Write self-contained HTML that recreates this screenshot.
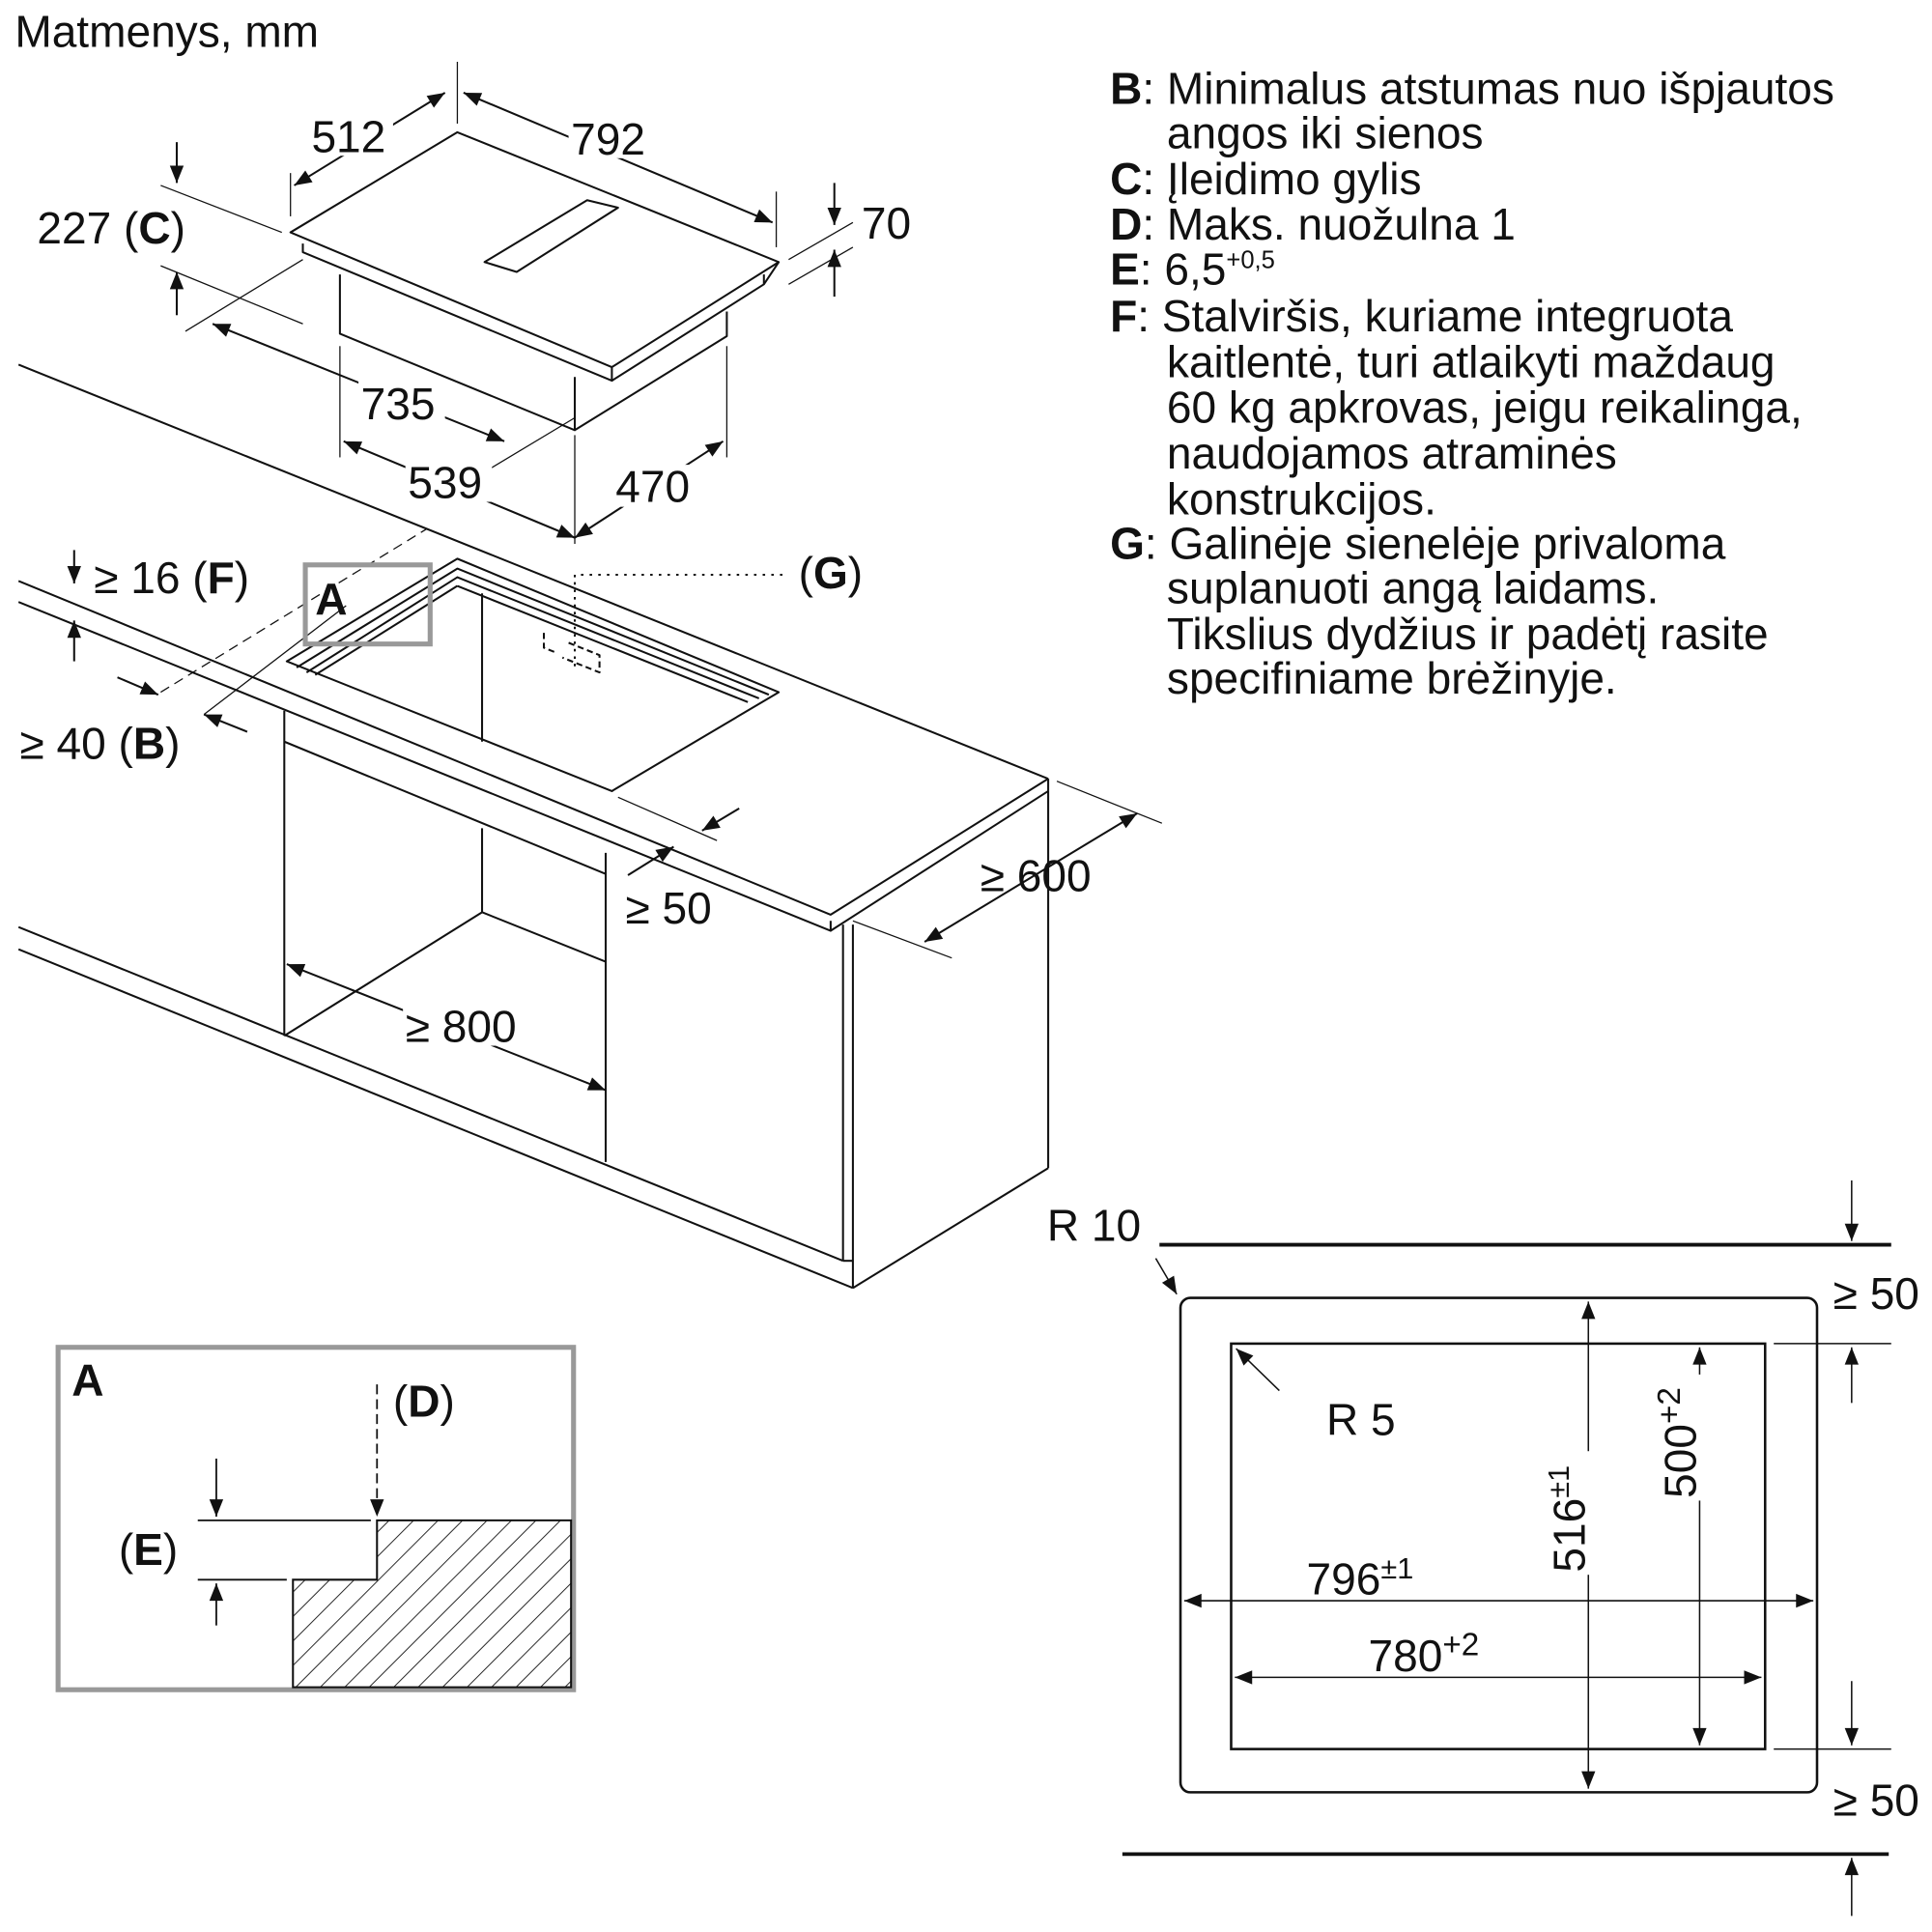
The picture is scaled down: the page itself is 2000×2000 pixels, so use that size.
<!DOCTYPE html>
<html><head><meta charset="utf-8"><style>
html,body{margin:0;padding:0;background:#fff;}
svg{display:block}
text{font-family:"Liberation Sans",sans-serif;fill:#111}
</style></head><body>
<svg width="2000" height="2000" viewBox="0 0 1563 1563" xmlns="http://www.w3.org/2000/svg">
<defs>
<marker id="ar2" viewBox="0 0 10 10" refX="10" refY="5" markerWidth="18" markerHeight="14" orient="auto-start-reverse" markerUnits="userSpaceOnUse"><path d="M0,1 L10,5 L0,9 z" fill="#111"/></marker>
<pattern id="hatch" width="14" height="14" patternUnits="userSpaceOnUse" patternTransform="rotate(45)"><line x1="0" y1="0" x2="0" y2="14" stroke="#111" stroke-width="1.4"/></pattern>
</defs>
<g stroke="#111" stroke-width="1.6" fill="none" stroke-linejoin="round">
<!-- hob -->
<polygon points="235,188 370,107 630,212 495,297" fill="#fff"/>
<polyline points="245,197 245,204 495,308 495,297"/>
<polyline points="495,308 618,230 630,212"/>
<line x1="618" y1="230" x2="618" y2="222"/>
<polygon points="392,212 475,162 500,168 418,220"/>
<polyline points="275,222 275,270 465,348 465,305"/>
<polyline points="465,348 588,272 588,252"/>
<!-- hob dims -->
<line x1="238" y1="150" x2="360" y2="75" marker-start="url(#ar2)" marker-end="url(#ar2)"/>
<line x1="235" y1="140" x2="235" y2="175" stroke-width="1"/>
<line x1="370" y1="50" x2="370" y2="100" stroke-width="1"/>
<line x1="375" y1="75" x2="625" y2="180" marker-start="url(#ar2)" marker-end="url(#ar2)"/>
<line x1="628" y1="155" x2="628" y2="200" stroke-width="1"/>
<line x1="130" y1="150" x2="228" y2="188" stroke-width="1"/>
<line x1="130" y1="215" x2="245" y2="262" stroke-width="1"/>
<line x1="143" y1="115" x2="143" y2="148" marker-end="url(#ar2)"/>
<line x1="143" y1="255" x2="143" y2="220" marker-end="url(#ar2)"/>
<line x1="638" y1="210" x2="690" y2="180" stroke-width="1"/>
<line x1="638" y1="230" x2="690" y2="200" stroke-width="1"/>
<line x1="675" y1="148" x2="675" y2="182" marker-end="url(#ar2)"/>
<line x1="675" y1="240" x2="675" y2="202" marker-end="url(#ar2)"/>
<line x1="150" y1="268" x2="245" y2="210" stroke-width="1"/>
<line x1="172" y1="262" x2="408" y2="357" marker-start="url(#ar2)" marker-end="url(#ar2)"/>
<line x1="395" y1="380" x2="465" y2="338" stroke-width="1"/>
<line x1="275" y1="280" x2="275" y2="370" stroke-width="1"/>
<line x1="588" y1="280" x2="588" y2="370" stroke-width="1"/>
<line x1="465" y1="352" x2="465" y2="440" stroke-width="1"/>
<line x1="278" y1="357" x2="465" y2="435" marker-start="url(#ar2)" marker-end="url(#ar2)"/>
<line x1="465" y1="435" x2="585" y2="357" marker-start="url(#ar2)" marker-end="url(#ar2)"/>
<!-- counter -->
<line x1="15" y1="295" x2="848" y2="630"/>
<polyline points="15,470 672,740 848,630"/>
<polyline points="15,487 672,753 672,745"/>
<line x1="848" y1="630" x2="848" y2="640"/>
<line x1="672" y1="753" x2="848" y2="640"/>
<line x1="682" y1="748" x2="682" y2="1020"/>
<line x1="690" y1="748" x2="690" y2="1042"/>
<line x1="848" y1="640" x2="848" y2="945"/>
<line x1="690" y1="1042" x2="848" y2="945"/>
<line x1="15" y1="750" x2="682" y2="1020"/>
<line x1="15" y1="768" x2="690" y2="1042"/>
<line x1="682" y1="1020" x2="690" y2="1020"/>
<!-- cabinet opening -->
<line x1="230" y1="575" x2="230" y2="838"/>
<line x1="230" y1="600" x2="490" y2="707"/>
<line x1="490" y1="690" x2="490" y2="940"/>
<line x1="390" y1="670" x2="390" y2="738"/>
<line x1="230" y1="838" x2="390" y2="738"/>
<line x1="390" y1="738" x2="490" y2="778"/>
<!-- cutout -->
<polygon points="232,535 370,452 630,560 495,640"/>
<polyline points="240,540 370,460 622,562"/>
<polyline points="248,544 370,467 614,565"/>
<line x1="390" y1="480" x2="390" y2="600"/>
<line x1="255" y1="546" x2="370" y2="474"/>
<line x1="370" y1="474" x2="605" y2="568"/>
<path d="M440,512 l0,12 l10,4 M460,520 l25,10 l0,14 l-30,-12" stroke-dasharray="5,3"/>
<line x1="465" y1="465" x2="465" y2="540" stroke-dasharray="2,4"/>
<line x1="470" y1="465" x2="635" y2="465" stroke-dasharray="2,5"/>
<line x1="130" y1="560" x2="345" y2="428" stroke-dasharray="8,5" stroke-width="1"/>
<!-- counter dims -->
<line x1="60" y1="445" x2="60" y2="472" marker-end="url(#ar2)"/>
<line x1="60" y1="535" x2="60" y2="502" marker-end="url(#ar2)"/>
<line x1="95" y1="548" x2="128" y2="562" marker-end="url(#ar2)"/>
<line x1="200" y1="592" x2="165" y2="578" marker-end="url(#ar2)"/>
<line x1="165" y1="578" x2="280" y2="490" stroke-width="1"/>
<line x1="500" y1="645" x2="580" y2="680" stroke-width="1"/>
<line x1="598" y1="654" x2="568" y2="672" marker-end="url(#ar2)"/>
<line x1="508" y1="708" x2="545" y2="685" marker-end="url(#ar2)"/>
<line x1="855" y1="632" x2="940" y2="666" stroke-width="1"/>
<line x1="690" y1="745" x2="770" y2="775" stroke-width="1"/>
<line x1="920" y1="658" x2="748" y2="762" marker-start="url(#ar2)" marker-end="url(#ar2)"/>
<line x1="232" y1="780" x2="490" y2="882" marker-start="url(#ar2)" marker-end="url(#ar2)"/>
</g>
<rect x="247" y="457" width="101" height="64" fill="none" stroke="#999" stroke-width="4"/>
<g font-size="36">
<text x="12" y="38">Matmenys, mm</text>
<rect x="250" y="92" width="68" height="34" fill="#fff"/><text x="252" y="123">512</text>
<rect x="460" y="94" width="70" height="34" fill="#fff"/><text x="462" y="125">792</text>
<text x="30" y="197">227 (<tspan font-weight="bold">C</tspan>)</text>
<text x="697" y="193">70</text>
<rect x="290" y="308" width="70" height="34" fill="#fff"/><text x="292" y="339">735</text>
<rect x="328" y="372" width="70" height="34" fill="#fff"/><text x="330" y="403">539</text>
<rect x="496" y="376" width="70" height="34" fill="#fff"/><text x="498" y="406">470</text>
<text x="76" y="480">≥ 16 (<tspan font-weight="bold">F</tspan>)</text>
<text x="16" y="614">≥ 40 (<tspan font-weight="bold">B</tspan>)</text>
<text x="255" y="497" font-weight="bold">A</text>
<text x="646" y="476">(<tspan font-weight="bold">G</tspan>)</text>
<text x="506" y="747">≥ 50</text>
<text x="793" y="721">≥ 600</text>
<rect x="326" y="810" width="96" height="36" fill="#fff"/><text x="328" y="843">≥ 800</text>
</g>
<g font-size="36">
<text x="898" y="84"><tspan font-weight="bold">B</tspan>: Minimalus atstumas nuo išpjautos</text>
<text x="944" y="120">angos iki sienos</text>
<text x="898" y="157"><tspan font-weight="bold">C</tspan>: Įleidimo gylis</text>
<text x="898" y="194"><tspan font-weight="bold">D</tspan>: Maks. nuožulna 1</text>
<text x="898" y="230"><tspan font-weight="bold">E</tspan>: 6,5<tspan font-size="20" dy="-13">+0,5</tspan></text>
<text x="898" y="268"><tspan font-weight="bold">F</tspan>: Stalviršis, kuriame integruota</text>
<text x="944" y="305">kaitlentė, turi atlaikyti maždaug</text>
<text x="944" y="342">60 kg apkrovas, jeigu reikalinga,</text>
<text x="944" y="379">naudojamos atraminės</text>
<text x="944" y="416">konstrukcijos.</text>
<text x="898" y="452"><tspan font-weight="bold">G</tspan>: Galinėje sienelėje privaloma</text>
<text x="944" y="488">suplanuoti angą laidams.</text>
<text x="944" y="525">Tikslius dydžius ir padėtį rasite</text>
<text x="944" y="561">specifiniame brėžinyje.</text>
</g>
<!-- detail A -->
<rect x="47" y="1090" width="417" height="277" fill="none" stroke="#999" stroke-width="4"/>
<polygon points="237,1278 305,1278 305,1230 462,1230 462,1365 237,1365" fill="url(#hatch)" stroke="#111" stroke-width="1.6"/>
<g stroke="#111" stroke-width="1.4" fill="none">
<line x1="160" y1="1230" x2="300" y2="1230"/>
<line x1="160" y1="1278" x2="232" y2="1278"/>
<line x1="175" y1="1180" x2="175" y2="1227" marker-end="url(#ar2)"/>
<line x1="175" y1="1315" x2="175" y2="1281" marker-end="url(#ar2)"/>
<line x1="305" y1="1120" x2="305" y2="1227" stroke-dasharray="8,4" marker-end="url(#ar2)"/>
</g>
<g font-size="36">
<text x="58" y="1129" font-weight="bold">A</text>
<text x="318" y="1146">(<tspan font-weight="bold">D</tspan>)</text>
<text x="96" y="1266">(<tspan font-weight="bold">E</tspan>)</text>
</g>
<!-- cutout plan -->
<g stroke="#111" fill="none">
<line x1="938" y1="1007" x2="1530" y2="1007" stroke-width="3"/>
<line x1="908" y1="1500" x2="1528" y2="1500" stroke-width="3"/>
<rect x="955" y="1050" width="515" height="400" rx="8" stroke-width="2"/>
<rect x="996" y="1087" width="432" height="328" stroke-width="2"/>
<g stroke-width="1.2">
<line x1="1498" y1="955" x2="1498" y2="1004" marker-end="url(#ar2)"/>
<line x1="1435" y1="1087" x2="1530" y2="1087"/>
<line x1="1435" y1="1415" x2="1530" y2="1415"/>
<line x1="1498" y1="1135" x2="1498" y2="1090" marker-end="url(#ar2)"/>
<line x1="1498" y1="1360" x2="1498" y2="1412" marker-end="url(#ar2)"/>
<line x1="1498" y1="1550" x2="1498" y2="1503" marker-end="url(#ar2)"/>
<line x1="935" y1="1018" x2="952" y2="1047" marker-end="url(#ar2)"/>
<line x1="1035" y1="1125" x2="1000" y2="1091" marker-end="url(#ar2)"/>
<line x1="958" y1="1295" x2="1467" y2="1295" marker-start="url(#ar2)" marker-end="url(#ar2)"/>
<line x1="999" y1="1357" x2="1425" y2="1357" marker-start="url(#ar2)" marker-end="url(#ar2)"/>
<line x1="1285" y1="1053" x2="1285" y2="1447" marker-start="url(#ar2)" marker-end="url(#ar2)"/>
<line x1="1375" y1="1090" x2="1375" y2="1412" marker-start="url(#ar2)" marker-end="url(#ar2)"/>
</g>
</g>
<g font-size="36">
<text x="847" y="1004">R 10</text>
<text x="1483" y="1059">≥ 50</text>
<text x="1483" y="1469">≥ 50</text>
<text x="1073" y="1161">R 5</text>
<rect x="1054" y="1256" width="100" height="36" fill="#fff"/>
<text x="1057" y="1290">796<tspan font-size="24" dy="-13">±1</tspan></text>
<rect x="1104" y="1318" width="102" height="36" fill="#fff"/>
<text x="1107" y="1352">780<tspan font-size="26" dy="-13">+2</tspan></text>
<g transform="translate(1282,1272) rotate(-90)"><rect x="-2" y="-30" width="100" height="36" fill="#fff"/><text x="0" y="0">516<tspan font-size="24" dy="-13">±1</tspan></text></g>
<g transform="translate(1372,1212) rotate(-90)"><rect x="-2" y="-30" width="102" height="36" fill="#fff"/><text x="0" y="0">500<tspan font-size="26" dy="-13">+2</tspan></text></g>
</g>
</svg>
</body></html>
